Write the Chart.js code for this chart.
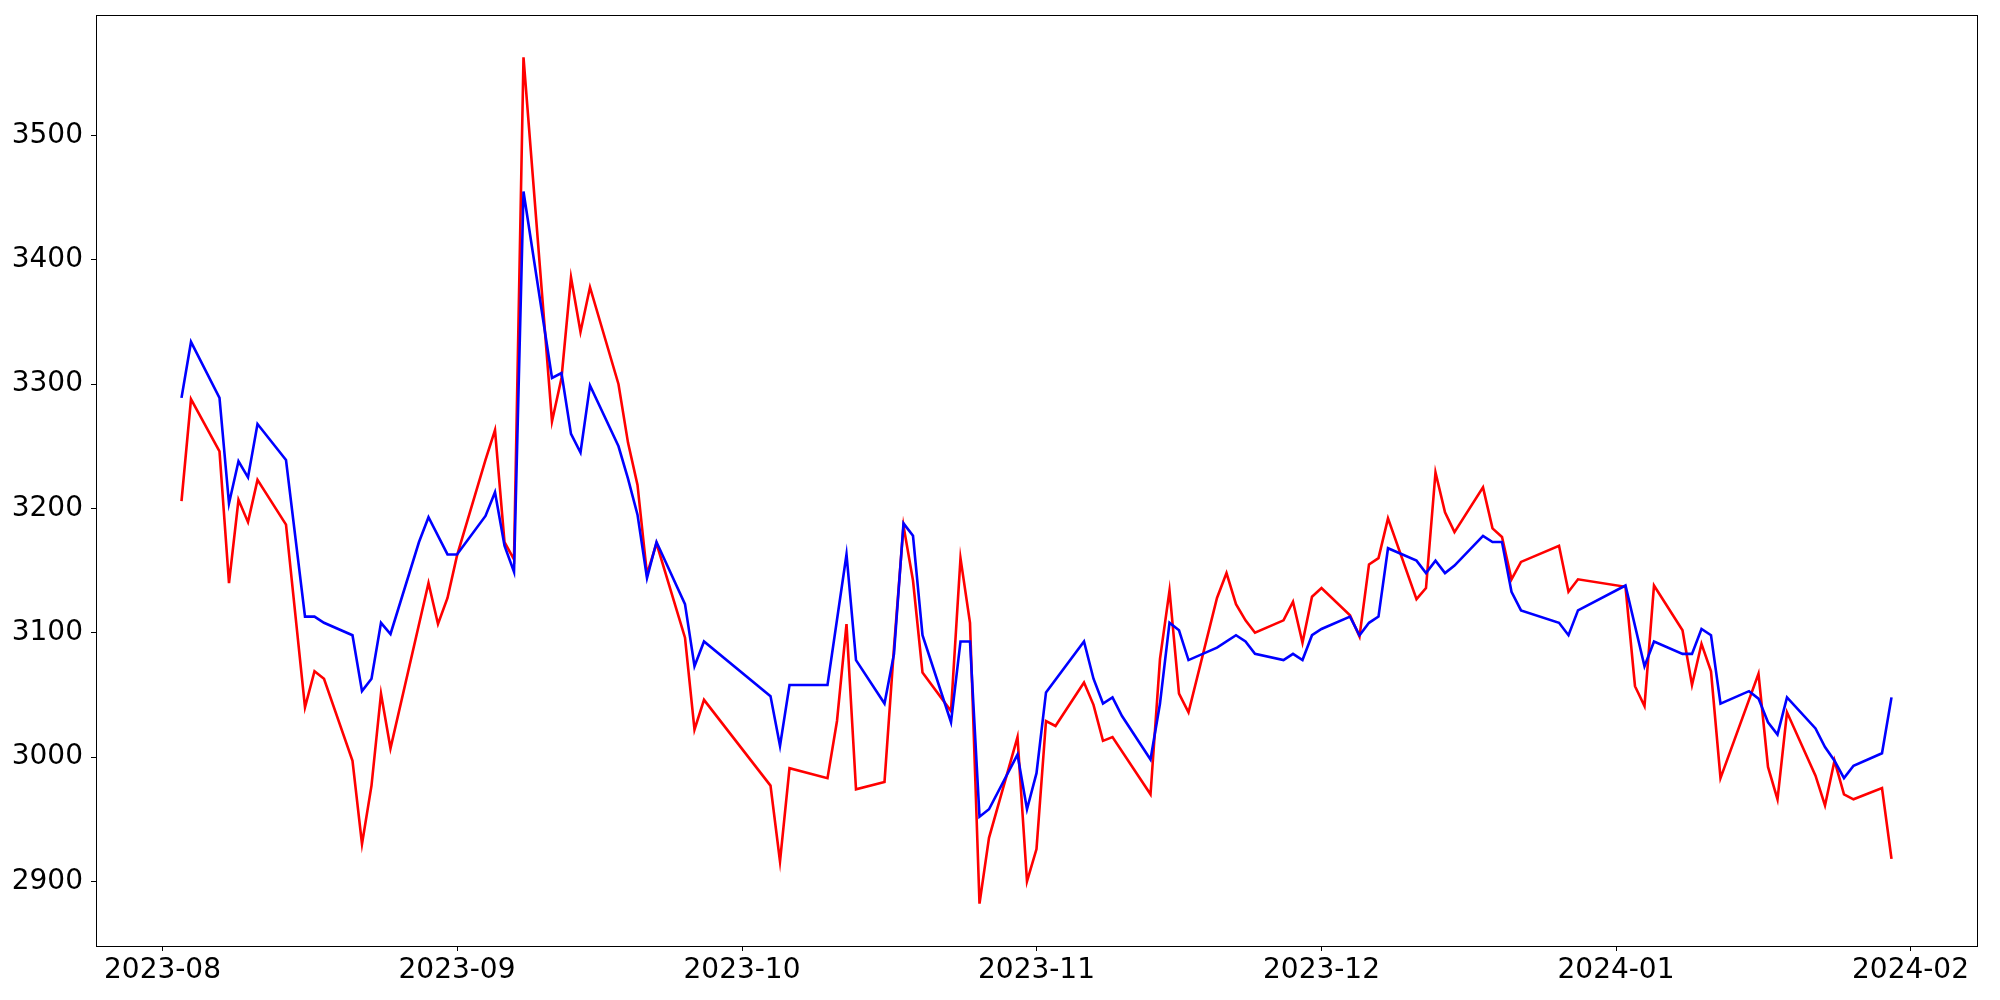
<!DOCTYPE html>
<html>
<head>
<meta charset="utf-8">
<script src="https://cdn.jsdelivr.net/npm/chart.js@4.4.0/dist/chart.umd.min.js"></script>
<style>
  html, body { margin: 0; padding: 0; background: #fff; }
  canvas { display: block; }
</style>
</head>
<body>
<canvas id="myChart" width="2000" height="1000"></canvas>
<script>
var dates = [
  '2023-08-03','2023-08-04','2023-08-07','2023-08-08','2023-08-09','2023-08-10','2023-08-11','2023-08-14','2023-08-16','2023-08-17',
  '2023-08-18','2023-08-21','2023-08-22','2023-08-23','2023-08-24','2023-08-25','2023-08-28','2023-08-29','2023-08-30','2023-08-31',
  '2023-09-01','2023-09-04','2023-09-05','2023-09-06','2023-09-07','2023-09-08','2023-09-11','2023-09-12','2023-09-13','2023-09-14',
  '2023-09-15','2023-09-18','2023-09-19','2023-09-20','2023-09-21','2023-09-22','2023-09-25','2023-09-26','2023-09-27',
  '2023-10-04','2023-10-05','2023-10-06','2023-10-10','2023-10-11','2023-10-12','2023-10-13','2023-10-16','2023-10-17','2023-10-18',
  '2023-10-19','2023-10-20','2023-10-23','2023-10-24','2023-10-25','2023-10-26','2023-10-27','2023-10-30','2023-10-31',
  '2023-11-01','2023-11-02','2023-11-03','2023-11-06','2023-11-07','2023-11-08','2023-11-09','2023-11-10','2023-11-13','2023-11-14',
  '2023-11-15','2023-11-16','2023-11-17','2023-11-20','2023-11-21','2023-11-22','2023-11-23','2023-11-24','2023-11-27','2023-11-28',
  '2023-11-29','2023-11-30',
  '2023-12-01','2023-12-04','2023-12-05','2023-12-06','2023-12-07','2023-12-08','2023-12-11','2023-12-12','2023-12-13','2023-12-14',
  '2023-12-15','2023-12-18','2023-12-19','2023-12-20','2023-12-21','2023-12-22','2023-12-26','2023-12-27','2023-12-28',
  '2024-01-02','2024-01-03','2024-01-04','2024-01-05','2024-01-08','2024-01-09','2024-01-10','2024-01-11','2024-01-12','2024-01-15',
  '2024-01-16','2024-01-17','2024-01-18','2024-01-19','2024-01-22','2024-01-23','2024-01-24','2024-01-25','2024-01-26','2024-01-29',
  '2024-01-30'
];

// blue series (null = no point that day)
var blueValues = [
  3289,3334,3289,3204,3238,3225,3268,3239,3113,3113,
  3108,3098,3053,3063,3108,3099,3173,3193,null,3163,
  3163,3194,3213,3170,3149,3455,3305,3309,3260,3245,
  3299,3250,3224,3195,3144,3173,3123,3073,3093,
  3049,3009,3058,3058,null,3163,3078,3043,3083,3188,
  3178,3098,3028,3093,3093,2952,2958,3002,2958,
  2987,3052,null,3093,3063,3043,3048,3033,2998,3043,
  3108,3102,3078,3088,null,3098,3093,3083,3078,3083,
  3078,3098,
  3103,3113,3098,3108,3113,3168,3158,3148,3158,3148,
  3154,3178,3173,3173,3133,3118,3108,3098,3118,
  3138,null,3073,3093,3083,3083,3103,3098,3043,3053,
  3047,3028,3018,3048,3023,3008,2997,2983,2993,3003,
  3048
];

// red series
var redValues = [
  3206,3288,3246,3140,3207,3189,3223,3187,3040,3069,
  3063,2997,2930,2977,3051,3007,null,3140,3107,3128,
  3162,3239,3263,3173,3159,3563,3270,3305,3386,3342,
  3378,3300,3253,3219,3147,3172,3096,3022,3046,
  2977,2916,2991,2983,3029,3107,2974,2980,3088,3186,
  3142,3068,3037,3160,3108,2882,2935,3016,2900,
  2926,3029,3025,3060,3042,3013,3016,null,2970,3079,
  3134,3051,3036,3128,3148,3123,3110,3100,3110,3125,
  3092,3129,
  3136,3114,3097,3155,3160,3192,3127,3136,3229,3197,
  3181,3217,3184,3177,3143,3157,3170,3133,3143,
  3137,3057,3041,3138,3102,3058,3091,3069,2983,null,
  3067,2992,2966,3036,2985,2961,2997,2970,2966,2975,
  2918
];

var monthTicks = ['2023-08-01','2023-09-01','2023-10-01','2023-11-01','2023-12-01','2024-01-01','2024-02-01'];
var yTicks = [2900, 3000, 3100, 3200, 3300, 3400, 3500];

function toTime(s) {
  var p = s.split('-');
  return Date.UTC(+p[0], +p[1] - 1, +p[2]);
}

function monthLabel(v) {
  var d = new Date(v);
  var m = d.getUTCMonth() + 1;
  return d.getUTCFullYear() + '-' + (m < 10 ? '0' + m : m);
}

function points(values) {
  return dates.map(function (d, i) { return { x: toTime(d), y: values[i] }; });
}

// matplotlib-like 5% margins
var t0 = toTime(dates[0]), t1 = toTime(dates[dates.length - 1]);
var tPad = (t1 - t0) * 0.05;
var all = blueValues.concat(redValues).filter(function (v) { return v !== null; });
var vMin = Math.min.apply(null, all), vMax = Math.max.apply(null, all);
var vPad = (vMax - vMin) * 0.05;

var frame = {
  id: 'frame',
  afterDraw: function (chart) {
    var a = chart.chartArea, ctx = chart.ctx;
    ctx.save();
    ctx.strokeStyle = '#000';
    ctx.lineWidth = 1;
    ctx.strokeRect(Math.round(a.left) + 0.5, Math.round(a.top) + 0.5, Math.round(a.right - a.left), Math.round(a.bottom - a.top));
    ctx.restore();
  }
};

var font = { family: 'DejaVu Sans', size: 28 };

var ctx = document.getElementById('myChart').getContext('2d');
var chart = new Chart(ctx, {
  type: 'line',
  data: {
    datasets: [{
      label: 'blue',
      data: points(blueValues),
      borderColor: '#0000ff',
      borderWidth: 2.6,
      pointRadius: 0,
      spanGaps: true,
      tension: 0
    }, {
      label: 'red',
      data: points(redValues),
      borderColor: '#ff0000',
      borderWidth: 2.6,
      pointRadius: 0,
      spanGaps: true,
      tension: 0
    }]
  },
  options: {
    responsive: false,
    animation: false,
    layout: { padding: { left: 0, right: 23, top: 15, bottom: 0 } },
    plugins: {
      legend: { display: false },
      tooltip: { enabled: false }
    },
    scales: {
      x: {
        type: 'linear',
        min: t0 - tPad,
        max: t1 + tPad,
        afterBuildTicks: function (scale) {
          scale.ticks = monthTicks.map(function (s) { return { value: toTime(s) }; });
        },
        afterFit: function (scale) {
          scale.height = 54;
          scale.paddingLeft = 0;
          scale.paddingRight = 0;
        },
        ticks: {
          color: '#000',
          font: font,
          padding: 3,
          maxRotation: 0,
          autoSkip: false,
          callback: function (v) { return monthLabel(v); }
        },
        grid: { drawOnChartArea: false, drawTicks: true, tickLength: 5, color: '#000', lineWidth: 1 },
        border: { display: true, color: '#000', width: 1 }
      },
      y: {
        type: 'linear',
        min: vMin - vPad,
        max: vMax + vPad,
        afterBuildTicks: function (scale) {
          scale.ticks = yTicks.map(function (v) { return { value: v }; });
        },
        afterFit: function (scale) {
          scale.width = 96;
          scale.paddingTop = 0;
          scale.paddingBottom = 0;
        },
        ticks: {
          color: '#000',
          font: font,
          padding: 8,
          callback: function (v) { return String(v); }
        },
        grid: { drawOnChartArea: false, drawTicks: true, tickLength: 5, color: '#000', lineWidth: 1 },
        border: { display: true, color: '#000', width: 1 }
      }
    }
  },
  plugins: [frame]
});
</script>
</body>
</html>
